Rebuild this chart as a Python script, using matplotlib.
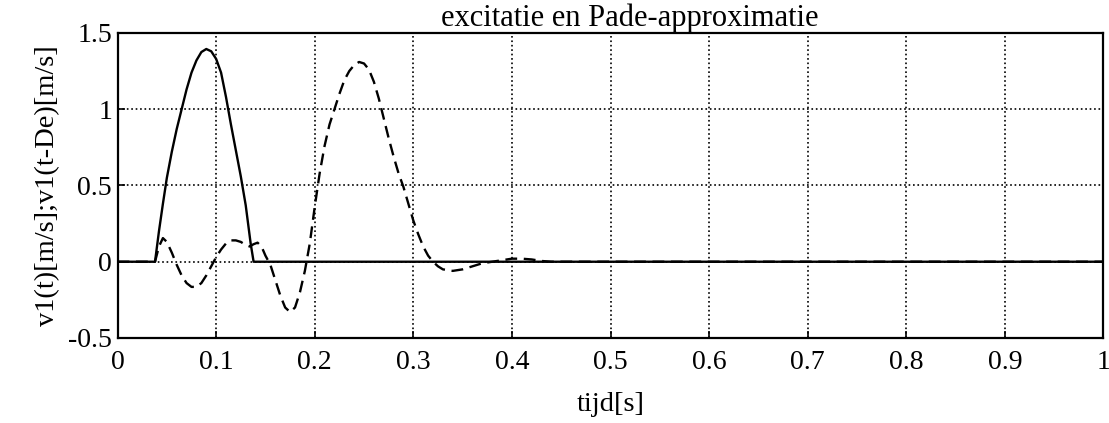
import matplotlib.pyplot as plt

plt.rcParams['font.family'] = ['Liberation Serif', 'DejaVu Serif']

# v1(t): excitation
t_exc = [0.0, 0.038, 0.042, 0.046, 0.050, 0.055, 0.060, 0.065, 0.070, 0.075,
         0.080, 0.085, 0.090, 0.095, 0.100, 0.105, 0.110, 0.115, 0.120, 0.125,
         0.130, 0.135, 0.138, 1.0]
v_exc = [0.0, 0.0, 0.2, 0.38, 0.55, 0.72, 0.87, 1.0, 1.13, 1.24,
         1.32, 1.375, 1.395, 1.38, 1.33, 1.24, 1.08, 0.90, 0.73, 0.56,
         0.37, 0.12, 0.0, 0.0]

# v1(t-De): Pade approximation of the delayed excitation
t_pade = [0.0, 0.038, 0.042, 0.046, 0.050, 0.055, 0.060, 0.065, 0.070, 0.075,
          0.080, 0.085, 0.090, 0.095, 0.100, 0.105, 0.110, 0.115, 0.120, 0.125,
          0.130, 0.134, 0.138, 0.142, 0.146, 0.150, 0.155, 0.160, 0.165, 0.170,
          0.175, 0.180, 0.185, 0.190, 0.195, 0.200, 0.205, 0.210, 0.215, 0.220,
          0.225, 0.230, 0.235, 0.240, 0.245, 0.250, 0.255, 0.260, 0.265, 0.270,
          0.275, 0.280, 0.285, 0.290, 0.295, 0.300, 0.305, 0.310, 0.315, 0.320,
          0.325, 0.330, 0.340, 0.350, 0.360, 0.370, 0.380, 0.390, 0.400, 0.410,
          0.420, 0.430, 0.440, 0.500, 1.0]
v_pade = [0.0, 0.0, 0.1, 0.155, 0.13, 0.06, -0.02, -0.09, -0.14, -0.165,
          -0.165, -0.14, -0.09, -0.03, 0.03, 0.08, 0.12, 0.14, 0.14, 0.13,
          0.11, 0.10, 0.115, 0.125, 0.10, 0.04, -0.02, -0.12, -0.22, -0.30,
          -0.33, -0.30, -0.20, -0.06, 0.12, 0.36, 0.58, 0.76, 0.90, 1.00,
          1.10, 1.19, 1.25, 1.29, 1.31, 1.30, 1.26, 1.18, 1.07, 0.94,
          0.81, 0.69, 0.58, 0.49, 0.38, 0.27, 0.18, 0.10, 0.04, 0.0,
          -0.03, -0.05, -0.06, -0.05, -0.03, -0.01, 0.0, 0.01, 0.02, 0.02,
          0.015, 0.005, 0.0, 0.0, 0.0]

xticks = [0, 0.1, 0.2, 0.3, 0.4, 0.5, 0.6, 0.7, 0.8, 0.9, 1]
xticklabels = ['0', '0.1', '0.2', '0.3', '0.4', '0.5', '0.6', '0.7', '0.8', '0.9', '1']
yticks = [-0.5, 0, 0.5, 1, 1.5]
yticklabels = ['-0.5', '0', '0.5', '1', '1.5']

fig = plt.figure(figsize=(11.09, 4.23), dpi=100)
ax = fig.add_axes([0.106, 0.201, 0.889, 0.721])

ax.plot(t_exc, v_exc, color='black', linewidth=1.7)
ax.plot(t_pade, v_pade, color='black', linewidth=1.7, linestyle=(0, (5, 2.8)))

ax.set_xlim(0, 1)
ax.set_ylim(-0.5, 1.5)
ax.set_xticks(xticks)
ax.set_xticklabels(xticklabels)
ax.set_yticks(yticks)
ax.set_yticklabels(yticklabels)
ax.tick_params(direction='in', length=5, width=1.2, labelsize=20, pad=4)
ax.tick_params(axis='x', pad=9)
ax.grid(True, color='black', linestyle=':', linewidth=1.2)
for s in ax.spines.values():
    s.set_linewidth(1.6)

ax.set_title('excitatie en Pade-approximatie', fontsize=22, pad=1, x=0.52)
ax.set_xlabel('tijd[s]', fontsize=20.5, labelpad=12)
ax.set_ylabel('v1(t)[m/s];v1(t-De)[m/s]', fontsize=20.5, labelpad=6)

fig.savefig('out.png', dpi=100)
